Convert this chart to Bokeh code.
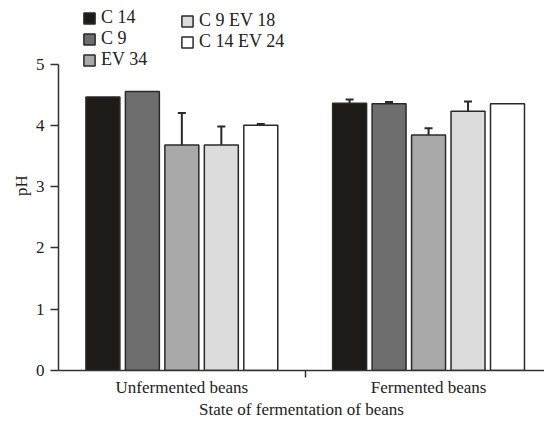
from bokeh.plotting import figure
from bokeh.models import ColumnDataSource, Legend, LegendItem, Whisker, FixedTicker, TeeHead, Range1d
from bokeh.embed import file_html
from bokeh.resources import INLINE

groups = ["Unfermented beans", "Fermented beans"]
series = ["C 14", "C 9", "EV 34", "C 9 EV 18", "C 14 EV 24"]
colors = ["#1e1a18", "#6e6e6e", "#a9a9a9", "#dcdcdc", "#ffffff"]
values = {
    "C 14": [4.46, 4.36],
    "C 9": [4.55, 4.35],
    "EV 34": [3.68, 3.84],
    "C 9 EV 18": [3.68, 4.23],
    "C 14 EV 24": [4.00, 4.35],
}
errors = {
    "C 14": [0.0, 0.06],
    "C 9": [0.0, 0.03],
    "EV 34": [0.52, 0.11],
    "C 9 EV 18": [0.30, 0.16],
    "C 14 EV 24": [0.02, 0.0],
}
yticks = [0, 1, 2, 3, 4, 5]

FONT = "Liberation Serif"
step = 0.16
bw = 0.1377

# frame spans whole top so the legend (drawn inside frame) is not clipped
p = figure(width=544, height=421, output_backend="svg", toolbar_location=None,
           x_range=Range1d(0, 1.97), y_range=Range1d(0, 6.036),
           min_border_left=58, min_border_right=0, min_border_top=0, min_border_bottom=48)
p.outline_line_color = None
p.xgrid.grid_line_color = None
p.ygrid.grid_line_color = None

renderers = []
wx, wu, wl = [], [], []
for k, s in enumerate(series):
    off = (k - 2) * step
    xs = [i + 0.5 + off for i in range(len(groups))]
    src = ColumnDataSource(dict(x=xs, top=values[s]))
    r = p.vbar(x="x", top="top", width=bw, bottom=0, source=src,
               fill_color=colors[k], line_color="#2a2a2a", line_width=1.5)
    renderers.append(r)
    for i in range(len(groups)):
        e = errors[s][i]
        if e > 0:
            wx.append(xs[i])
            wu.append(values[s][i] + e)
            wl.append(values[s][i] - e)

wsrc = ColumnDataSource(dict(x=wx, upper=wu, lower=wl))
w = Whisker(base="x", upper="upper", lower="lower", source=wsrc,
            line_color="#2a2a2a", line_width=2,
            upper_head=TeeHead(size=8, line_color="#2a2a2a", line_width=2),
            lower_head=TeeHead(size=8, line_color="#2a2a2a", line_width=2))
p.add_layout(w)

# axes
p.yaxis.ticker = FixedTicker(ticks=yticks)
p.yaxis.bounds = (0, 5)
p.yaxis.major_tick_out = 8
p.yaxis.major_tick_in = 0
p.yaxis.major_label_standoff = 6
p.yaxis.axis_label = "pH"
p.yaxis.axis_label_standoff = 2

p.xaxis.ticker = FixedTicker(ticks=[0.5, 1.5], minor_ticks=[1.0])
p.xaxis.major_label_overrides = {0.5: groups[0], 1.5: groups[1]}
p.xaxis.major_tick_out = 0
p.xaxis.major_tick_in = 0
p.xaxis.minor_tick_out = 7
p.xaxis.minor_tick_in = 0
p.xaxis.major_label_standoff = 0
p.xaxis.axis_label = "State of fermentation of beans"
p.xaxis.axis_label_standoff = 0

for ax in [p.xaxis[0], p.yaxis[0]]:
    ax.axis_line_color = "#333333"
    ax.axis_line_width = 1.5
    ax.major_tick_line_color = "#333333"
    ax.major_tick_line_width = 1.5
    ax.minor_tick_line_width = 1.5
    ax.major_label_text_font = FONT
    ax.major_label_text_font_size = "17px"
    ax.major_label_text_color = "#222222"
    ax.axis_label_text_font = FONT
    ax.axis_label_text_font_size = "17px"
    ax.axis_label_text_font_style = "normal"
    ax.axis_label_text_color = "#222222"
p.xaxis.minor_tick_line_color = "#333333"
p.yaxis.minor_tick_line_color = None

def make_legend(items, loc):
    lg = Legend(items=items, location=loc, orientation="vertical")
    lg.border_line_color = None
    lg.background_fill_alpha = 0
    lg.padding = 0
    lg.margin = 0
    lg.spacing = 0
    lg.glyph_width = 14
    lg.glyph_height = 14
    lg.label_height = 18
    lg.label_standoff = 5
    lg.label_text_font = FONT
    lg.label_text_font_size = "18px"
    lg.label_text_color = "#222222"
    return lg

items = [LegendItem(label=s, renderers=[renderers[k]]) for k, s in enumerate(series)]
p.add_layout(make_legend(items[:3], (24, 300)), "center")
p.add_layout(make_legend(items[3:], (122, 318)), "center")

open("out.html", "w").write(file_html(p, INLINE))
